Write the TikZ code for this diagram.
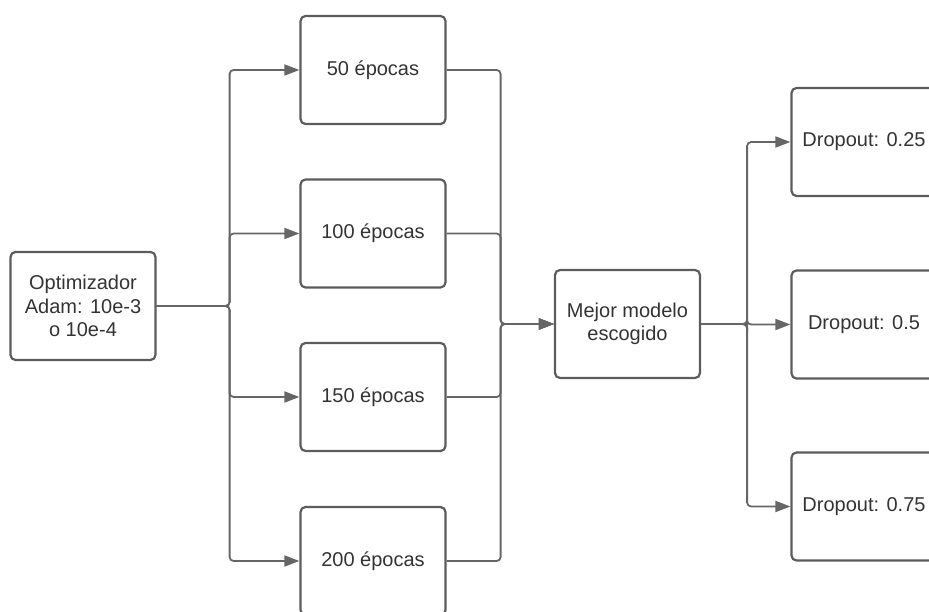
\documentclass[tikz,border=0pt]{standalone}
\usepackage{fontspec}
\setmainfont{Liberation Sans}
\usetikzlibrary{arrows.meta}
\definecolor{boxline}{HTML}{5C5C5C}
\definecolor{wire}{HTML}{666666}
\definecolor{ink}{HTML}{333333}
\begin{document}
\begin{tikzpicture}[x=1pt,y=-1pt,
  box/.style={draw=boxline, line width=2.2pt, rounded corners=5pt,
    minimum width=145pt, minimum height=108pt, inner sep=0pt,
    align=center, text=ink, font=\fontsize{20}{23.5}\selectfont},
  plain/.style={draw=wire, line width=1.8pt, rounded corners=4pt},
  link/.style={plain, -{Triangle[length=15pt,width=11pt]}}]
\useasboundingbox (0,0) rectangle (929,612);
\clip (0,0) rectangle (929,612);

% boxes
\node[box] (opt)   at (83,306)    {Optimizador\\Adam: 10e-3\\o 10e-4};
\node[box] (e50)   at (373,70)    {50 épocas};
\node[box] (e100)  at (373,233.5) {100 épocas};
\node[box] (e150)  at (373,397)   {150 épocas};
\node[box] (e200)  at (373,561)   {200 épocas};
\node[box] (best)  at (627.5,324) {Mejor modelo\\escogido};
\node[box] (d25)   at (864,142)   {Dropout: 0.25};
\node[box] (d50)   at (864,324.5) {Dropout: 0.5};
\node[box] (d75)   at (864,506.5) {Dropout: 0.75};

% optimizer fans out to the epoch counts
\foreach \t in {e50,e100,e150,e200}
  \draw[link] (opt.east) -- ++(73,0) |- (\t.west);

% epoch counts merge into the chosen model
\foreach \s in {e50,e100,e150,e200}
  \draw[link] (\s.east) -- ++(54,0) |- (best.west);

% chosen model fans out to dropout values
\foreach \t in {d25,d50,d75}
  \draw[link] (best.east) -- ++(46,0) |- (\t.west);
\end{tikzpicture}
\end{document}
